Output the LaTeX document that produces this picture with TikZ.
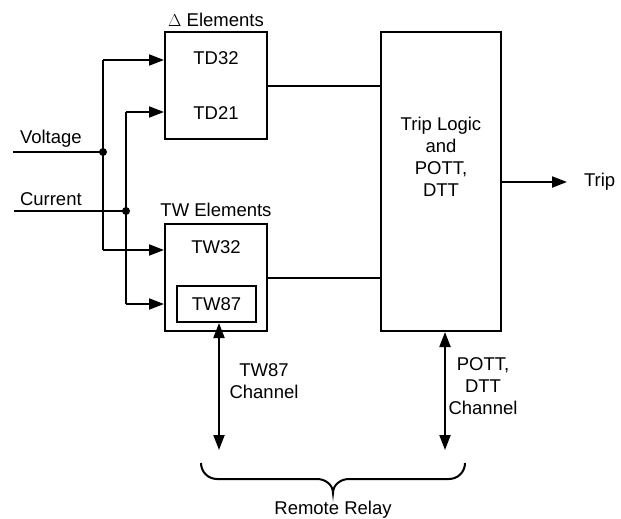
\documentclass[tikz,border=0pt]{standalone}
\usepackage{fontspec}
\setmainfont{Liberation Sans}
\usetikzlibrary{arrows.meta}
\begin{document}
\begin{tikzpicture}[x=1pt,y=-1pt, line width=2pt,
  every node/.style={font=\fontsize{18.5}{22}\selectfont, inner sep=0pt},
  blk/.style={draw, line width=2pt, inner sep=0pt},
  arr/.style={-{Triangle[length=15pt,width=11pt]}},
  darr/.style={{Triangle[length=15pt,width=11pt]}-{Triangle[length=15pt,width=11pt]}},
  dot/.style={circle, fill, minimum size=8pt, inner sep=0pt}]
\useasboundingbox (0,0) rectangle (621,519);

% blocks
\node[blk, minimum width=102pt, minimum height=107pt] (delta) at (216,85.5) {};
\node[blk, minimum width=102pt, minimum height=107pt] (tw) at (216,277.5) {};
\node[blk, minimum width=79pt, minimum height=36pt] (tw87) at (216.5,304) {TW87};
\node[blk, minimum width=120pt, minimum height=299pt] (trip) at (441,181.5) {};

% texts
\node (dlab) at (216,20) {$\Delta$ Elements};
\node (twlab) at (216,210) {TW Elements};
\node (td32) at (216,58) {TD32};
\node (td21) at (216,113) {TD21};
\node (tw32) at (216,247) {TW32};
\node[align=center] (triptext) at (441,157) {Trip Logic\\and\\POTT,\\DTT};
\node[anchor=west] (triplab) at (583,182) {Trip};
\node[anchor=west] (vlab) at (19,139) {Voltage};
\node[anchor=west] (clab) at (19,199) {Current};
\node[align=center] (chlab1) at (264,381) {TW87\\Channel};
\node[align=center] (chlab2) at (483,386) {POTT,\\DTT\\Channel};
\node (rrlab) at (333,510) {Remote Relay};

% inputs
\coordinate (vin) at (13,152);
\coordinate (cin) at (14,211);
\node[dot] (vj) at (103,152) {};
\node[dot] (cj) at (126,211) {};
\coordinate (v1) at (103,60);
\coordinate (v2) at (103,250);
\coordinate (c1) at (126,112);
\coordinate (c2) at (126,304);
\draw (vin) -- (vj.center);
\draw (cin) -- (cj.center);
\draw (v2) -- (v1);
\draw (c2) -- (c1);
\draw[arr] (v1) -- (v1 -| delta.west);
\draw[arr] (c1) -- (c1 -| delta.west);
\draw[arr] (v2) -- (v2 -| tw.west);
\draw[arr] (c2) -- (c2 -| tw.west);

% to trip logic
\draw (delta.east) -- (delta.east -| trip.west);
\draw (tw.east) -- (tw.east -| trip.west);
\coordinate (tripend) at (567,182);
\draw[arr] (tripend -| trip.east) -- (tripend);

% channels
\coordinate (rr1) at (219,450);
\coordinate (rr2) at (445,450);
\draw[darr] (rr1 |- tw87.south) -- (rr1);
\draw[darr] (rr2 |- trip.south) -- (rr2);

% brace
\draw (201,463) to[out=-90,in=180] (217,479) -- (317,479)
  to[out=0,in=90] (333,493) to[out=90,in=180] (349,479) -- (449,479)
  to[out=0,in=-90] (465,463);
\end{tikzpicture}
\end{document}
